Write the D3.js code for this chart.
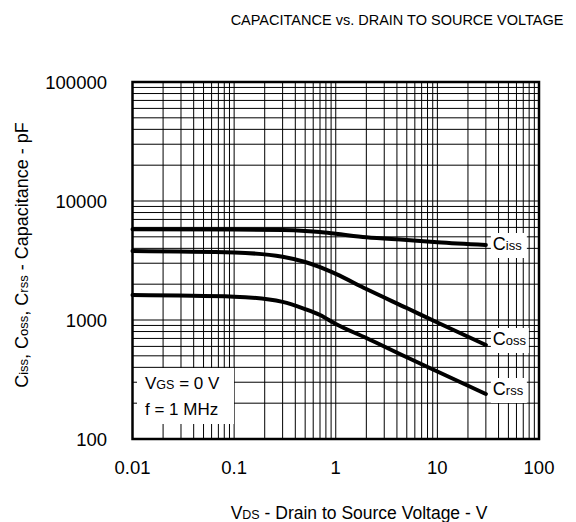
<!DOCTYPE html>
<html lang="en">
<head>
  <meta charset="UTF-8">
  <title>Capacitance vs. Drain to Source Voltage</title>
  <script src="https://d3js.org/d3.v7.min.js"></script>
  <style>
    body { margin: 0; background: #fff; }
    svg { display: block; font-family: Arial, "Liberation Sans", sans-serif; }
  </style>
</head>
<body>
  <svg id="chart" width="576" height="522"></svg>
  <script>
    // values
    const vds  = [0.01, 0.1, 0.3, 0.5, 0.7, 1, 2, 5, 10, 30];
    const ciss = [5780, 5750, 5700, 5600, 5480, 5300, 4950, 4700, 4500, 4270];
    const coss = [3800, 3690, 3400, 3070, 2780, 2440, 1820, 1260, 953, 617];
    const crss = [1620, 1570, 1420, 1235, 1100, 925, 706, 486, 369, 239];

    const xTicks = [0.01, 0.1, 1, 10, 100];
    const yTicks = [100, 1000, 10000, 100000];

    const svg = d3.select("#chart");
    const margin = {top: 82, right: 37, bottom: 83, left: 132.5};
    const width = 576 - margin.left - margin.right,
          height = 522 - margin.top - margin.bottom;

    const x = d3.scaleLog().domain([0.01, 100]).range([margin.left, margin.left + width]);
    const y = d3.scaleLog().domain([100, 100000]).range([margin.top + height, margin.top]);

    // minor + major grid (1..9 per decade)
    const xGrid = [], yGrid = [];
    for (let e = -2; e < 2; e++) for (let k = 1; k < 10; k++) xGrid.push(k * Math.pow(10, e));
    for (let e = 2; e < 5; e++) for (let k = 1; k < 10; k++) yGrid.push(k * Math.pow(10, e));

    const grid = svg.append("g").attr("stroke", "#000").attr("stroke-width", 1);
    grid.selectAll(".vx").data(xGrid.slice(1)).enter().append("line")
      .attr("x1", d => x(d)).attr("x2", d => x(d))
      .attr("y1", margin.top).attr("y2", margin.top + height);
    grid.selectAll(".hy").data(yGrid.slice(1)).enter().append("line")
      .attr("y1", d => y(d)).attr("y2", d => y(d))
      .attr("x1", margin.left).attr("x2", margin.left + width);

    // curves
    const line = d3.line()
      .x((d, i) => x(vds[i]))
      .y(d => y(d))
      .curve(d3.curveMonotoneX);

    [ciss, coss, crss].forEach(s => {
      svg.append("path")
        .datum(s)
        .attr("fill", "none")
        .attr("stroke", "#000")
        .attr("stroke-width", 4)
        .attr("stroke-linecap", "round")
        .attr("d", line);
    });

    // label boxes with white backgrounds
    function label(px, py, big, small, boxW) {
      const g = svg.append("g");
      g.append("rect")
        .attr("x", px - 2).attr("y", py - 17)
        .attr("width", boxW).attr("height", 25)
        .attr("fill", "#fff");
      const t = g.append("text").attr("x", px).attr("y", py).attr("font-size", 18);
      t.append("tspan").text(big);
      t.append("tspan").attr("font-size", 13).text(small);
    }
    label(x(30) + 7, 250, "C", "iss", 36);
    label(x(30) + 7, 345, "C", "oss", 38);
    label(x(30) + 7, 395, "C", "rss", 36);

    // conditions box
    const cond = svg.append("g");
    cond.append("rect").attr("x", 137).attr("y", 368).attr("width", 97).attr("height", 56).attr("fill", "#fff");
    const t1 = cond.append("text").attr("x", 145).attr("y", 389).attr("font-size", 17);
    t1.append("tspan").text("V");
    t1.append("tspan").attr("font-size", 12.5).text("GS");
    t1.append("tspan").text(" = 0 V");
    cond.append("text").attr("x", 145).attr("y", 415).attr("font-size", 17).text("f = 1 MHz");

    // frame
    svg.append("rect")
      .attr("x", margin.left).attr("y", margin.top)
      .attr("width", width).attr("height", height)
      .attr("fill", "none").attr("stroke", "#000").attr("stroke-width", 2.5);

    // tick labels
    svg.append("g").selectAll("text").data(xTicks).enter().append("text")
      .attr("x", d => x(d)).attr("y", 474)
      .attr("text-anchor", "middle").attr("font-size", 18.5)
      .text(d => d);
    svg.append("g").selectAll("text").data(yTicks).enter().append("text")
      .attr("x", 107).attr("y", d => y(d) + 6.5)
      .attr("text-anchor", "end").attr("font-size", 18.5)
      .text(d => d);

    // titles
    svg.append("text")
      .attr("x", 397).attr("y", 25)
      .attr("text-anchor", "middle").attr("font-size", 14.5)
      .text("CAPACITANCE vs. DRAIN TO SOURCE VOLTAGE");

    const xt = svg.append("text")
      .attr("x", 359).attr("y", 519)
      .attr("text-anchor", "middle").attr("font-size", 17.5);
    xt.append("tspan").text("V");
    xt.append("tspan").attr("font-size", 12.5).text("DS");
    xt.append("tspan").text(" - Drain to Source Voltage - V");

    const yt = svg.append("text")
      .attr("transform", "translate(28,255) rotate(-90)")
      .attr("text-anchor", "middle").attr("font-size", 18);
    [["C", 18], ["iss", 13], [", C", 18], ["oss", 13], [", C", 18], ["rss", 13], [" - Capacitance - pF", 18]]
      .forEach(([s, f]) => yt.append("tspan").attr("font-size", f).text(s));
  </script>
</body>
</html>
